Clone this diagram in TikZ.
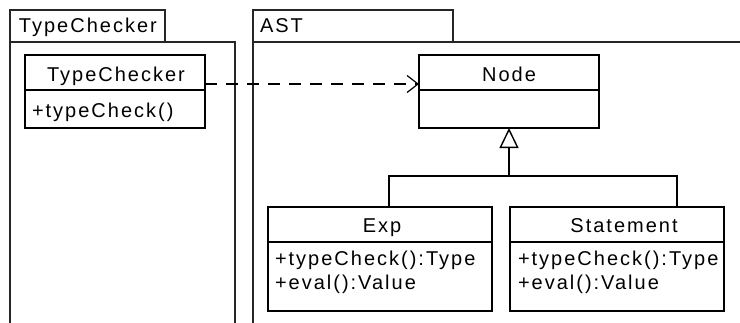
\documentclass[tikz,border=0pt]{standalone}
\usepackage{fontspec}
\setmainfont{Liberation Sans}[LetterSpace=10]
\usetikzlibrary{arrows.meta}
\begin{document}
\begin{tikzpicture}[x=1pt,y=-1pt,
  every node/.style={inner sep=0pt,outer sep=0pt,font=\fontsize{20}{23}\selectfont},
  pkg/.style={draw=black!85,line width=1.5pt},
  classbox/.style={draw=black,line width=1.4pt,anchor=north west,fill=white},
  divider/.style={draw=black,line width=1.4pt},
  dep/.style={draw=black,line width=1.2pt,dash pattern=on 12pt off 9pt,
    -{Straight Barb[length=11pt,width=17pt,line width=1.2pt]}},
  gen/.style={draw=black,line width=1.4pt,
    -{Triangle[open,length=20pt,width=19pt,line width=1.4pt]}},
  member/.style={anchor=base west},
  title/.style={anchor=base}]
\useasboundingbox (0,0) rectangle (740,322);
\clip (0,0) rectangle (740,322);

% package TypeChecker
\node[draw=black!85,line width=1.5pt,anchor=north west,minimum width=155,minimum height=32] (pkgtab1) at (10,10) {};
\node[anchor=base west] (pkgname1) at (19,32) {TypeChecker};
\draw[pkg] (10,340) -- (10,42) -- (235,42) -- (235,340);

% package AST
\node[draw=black!85,line width=1.5pt,anchor=north west,minimum width=200,minimum height=32] (pkgtab2) at (253,10) {};
\node[anchor=base west] (pkgname2) at (260,32) {AST};
\draw[pkg] (253,340) -- (253,42) -- (760,42);

% class TypeChecker
\node[classbox,minimum width=180,minimum height=73] (tc) at (25,55) {};
\draw[divider] (25,90) -- (205,90);
\node[title] (tcname) at (116,81.5) {TypeChecker};
\node[member] (tcm1) at (32,117) {+typeCheck()};

% class Node
\node[classbox,minimum width=180,minimum height=73] (nd) at (419,55) {};
\draw[divider] (419,90) -- (599,90);
\node[title] (ndname) at (509,81.5) {Node};

% class Exp
\node[classbox,minimum width=224,minimum height=104] (ex) at (268,207) {};
\draw[divider] (268,242) -- (492,242);
\node[title] (exname) at (382,232) {Exp};
\node[member] (exm1) at (275,265) {+typeCheck():Type};
\node[member] (exm2) at (275,289) {+eval():Value};

% class Statement
\node[classbox,minimum width=214,minimum height=104] (st) at (510,207) {};
\draw[divider] (510,242) -- (724,242);
\node[title] (stname) at (624,232) {Statement};
\node[member] (stm1) at (518,265) {+typeCheck():Type};
\node[member] (stm2) at (518,289) {+eval():Value};

% dependency TypeChecker -> Node
\draw[dep] ([yshift=7.5pt]tc.east) -- ([yshift=7.5pt]nd.west);

% generalization Exp, Statement -> Node
\coordinate (j) at (nd.south |- 0,176);
\draw[divider] ([xshift=9pt]ex.north) |- ([xshift=60pt]st.north |- j) -- ([xshift=60pt]st.north);
\draw[gen] (j) -- (nd.south);
\end{tikzpicture}
\end{document}
